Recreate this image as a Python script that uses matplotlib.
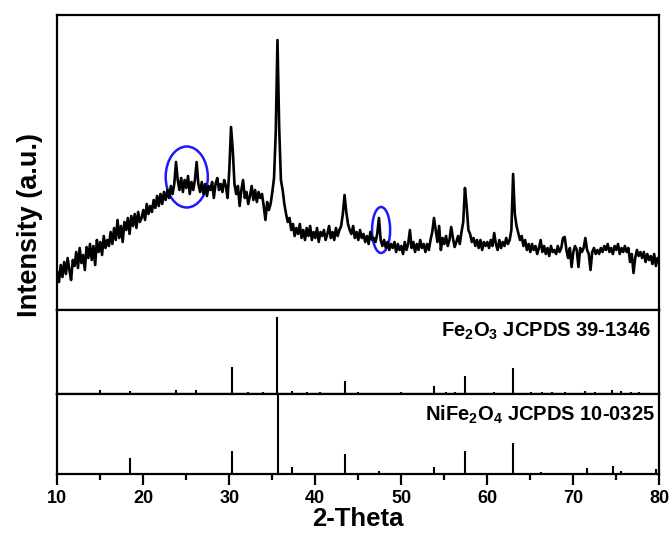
import numpy as np
import matplotlib
matplotlib.use("Agg")
import matplotlib.pyplot as plt
from matplotlib.patches import Ellipse

plt.rcParams['font.family'] = ['Liberation Sans', 'DejaVu Sans']
plt.rcParams['font.weight'] = 'bold'
plt.rcParams['mathtext.fontset'] = 'custom'
plt.rcParams['mathtext.rm'] = 'Liberation Sans:bold'
plt.rcParams['mathtext.bf'] = 'Liberation Sans:bold'
plt.rcParams['mathtext.default'] = 'rm'

# measured XRD pattern, 0.2 deg steps from 10 to 80
two_theta = np.round(np.arange(10.0, 80.01, 0.2), 1)
intensity = [
    38, 28, 45, 33, 48,
    36, 52, 40, 30, 50,
    44, 58, 42, 62, 47,
    55, 40, 63, 52, 66,
    50, 64, 45, 70, 58,
    68, 55, 74, 62, 70,
    64, 78, 66, 82, 70,
    90, 72, 84, 68, 88,
    80, 92, 76, 94, 84,
    96, 82, 98, 88, 92,
    100, 90, 106, 96, 104,
    98, 110, 102, 114, 104,
    116, 106, 118, 110, 120,
    112, 124, 116, 126, 148,
    130, 120, 132, 118, 130,
    122, 134, 116, 128, 120,
    130, 148, 126, 118, 128,
    116, 126, 114, 124, 120,
    128, 112, 126, 132, 120,
    126, 118, 130, 124, 112,
    140, 183, 160, 126, 116,
    124, 104, 120, 130, 112,
    118, 106, 114, 124, 110,
    120, 108, 118, 112, 116,
    104, 90, 108, 100, 106,
    118, 132, 178, 270, 182,
    130, 120, 106, 96, 88,
    92, 80, 86, 74, 82,
    76, 86, 72, 80, 70,
    82, 74, 84, 70, 78,
    72, 82, 68, 78, 74,
    80, 70, 76, 84, 72,
    78, 70, 82, 74, 80,
    84, 96, 115, 98, 86,
    80, 76, 84, 72, 78,
    70, 80, 72, 76, 68,
    74, 66, 78, 70, 72,
    68, 76, 92, 70, 64,
    70, 62, 68, 60, 66,
    62, 68, 58, 66, 60,
    64, 56, 68, 60, 66,
    80, 62, 68, 58, 66,
    60, 70, 62, 66, 58,
    66, 60, 70, 78, 92,
    80, 68, 84, 60, 72,
    66, 74, 64, 70, 83,
    72, 63, 68, 74, 66,
    78, 88, 122, 104, 80,
    76, 68, 72, 64, 70,
    62, 70, 60, 68, 64,
    68, 62, 70, 64, 77,
    66, 60, 70, 62, 68,
    64, 72, 66, 70, 80,
    136, 96, 84, 77, 70,
    74, 64, 70, 60, 66,
    58, 66, 60, 64, 56,
    62, 70, 58, 64, 56,
    62, 54, 64, 58, 60,
    56, 64, 58, 62, 72,
    73, 60, 52, 62, 43,
    58, 64, 60, 43, 62,
    58, 62, 72, 60, 56,
    40, 58, 62, 56, 60,
    56, 62, 58, 64, 60,
    66, 58, 62, 56, 64,
    60, 66, 56, 62, 58,
    64, 58, 62, 48, 56,
    37, 52, 60, 54, 58,
    52, 58, 48, 56, 50,
    54, 46, 56, 44, 52,
    50,
]

# Fe2O3 JCPDS 39-1346 reference lines
fe2o3_pos = [15.0, 18.4, 23.8, 26.1, 30.3, 32.2, 33.9, 35.6, 37.3, 39.0, 40.6,
             43.4, 45.0, 50.0, 53.8, 55.2, 56.2, 57.4, 60.8, 63.0, 65.1, 66.4,
             67.5, 69.0, 71.4, 72.5, 74.5, 75.6, 76.7, 77.6]
fe2o3_int = [0.05, 0.04, 0.05, 0.05, 0.32, 0.02, 0.02, 0.92, 0.04, 0.02, 0.02,
             0.15, 0.02, 0.02, 0.09, 0.02, 0.02, 0.22, 0.02, 0.31, 0.02, 0.02,
             0.02, 0.02, 0.03, 0.02, 0.05, 0.03, 0.02, 0.02]

# NiFe2O4 JCPDS 10-0325 reference lines
nife2o4_pos = [18.4, 30.3, 35.7, 37.3, 43.4, 47.4, 53.8, 57.4, 63.0, 66.2,
               71.6, 74.6, 75.6, 79.6]
nife2o4_int = [0.20, 0.29, 1.0, 0.09, 0.25, 0.04, 0.09, 0.29, 0.39, 0.02,
               0.07, 0.10, 0.04, 0.06]

fig = plt.figure(figsize=(6.72, 5.34), dpi=100)
left, width = 0.0853, 0.8958
ax1 = fig.add_axes([left, 0.4195, width, 0.5524])
ax2 = fig.add_axes([left, 0.2622, width, 0.1573])
ax3 = fig.add_axes([left, 0.1124, width, 0.1498])

ax1.plot(two_theta, intensity, color='black', lw=1.9)
ax1.set_ylim(0, 295)
ax1.add_patch(Ellipse((25.05, 133), 4.9, 61, fill=False, ec='#1a1aff', lw=1.8))
ax1.add_patch(Ellipse((47.65, 80), 2.1, 46, fill=False, ec='#1a1aff', lw=1.8))

ax2.vlines(fe2o3_pos, 0, fe2o3_int, color='black', lw=1.5)
ax3.vlines(nife2o4_pos, 0, nife2o4_int, color='black', lw=1.5)
ax2.text(0.985, 0.74, 'Fe$_2$O$_3$ JCPDS 39-1346', transform=ax2.transAxes,
         ha='right', va='center', fontsize=14.5, fontweight='bold')
ax3.text(0.993, 0.74, 'NiFe$_2$O$_4$ JCPDS 10-0325', transform=ax3.transAxes,
         ha='right', va='center', fontsize=14.5, fontweight='bold')

for ax in (ax1, ax2, ax3):
    ax.set_xlim(10, 80)
    ax.set_yticks([])
    for s in ax.spines.values():
        s.set_linewidth(1.6)
for ax in (ax2, ax3):
    ax.set_ylim(0, 1)
for ax in (ax1, ax2):
    ax.set_xticks([])

ax3.set_xticks(np.arange(10, 81, 10))
ax3.set_xticks(np.arange(15, 80, 10), minor=True)
ax3.tick_params(which='major', length=8, width=1.6, direction='out', labelsize=13)
ax3.tick_params(which='minor', length=4, width=1.6, direction='out')
for lab in ax3.get_xticklabels():
    lab.set_fontweight('bold')
ax3.set_xlabel('2-Theta', fontsize=18.5, fontweight='bold', labelpad=0)

fig.text(0.045, 0.579, 'Intensity (a.u.)', rotation=90, ha='center', va='center',
         fontsize=19.5, fontweight='bold')

fig.savefig('out.png', dpi=100)
